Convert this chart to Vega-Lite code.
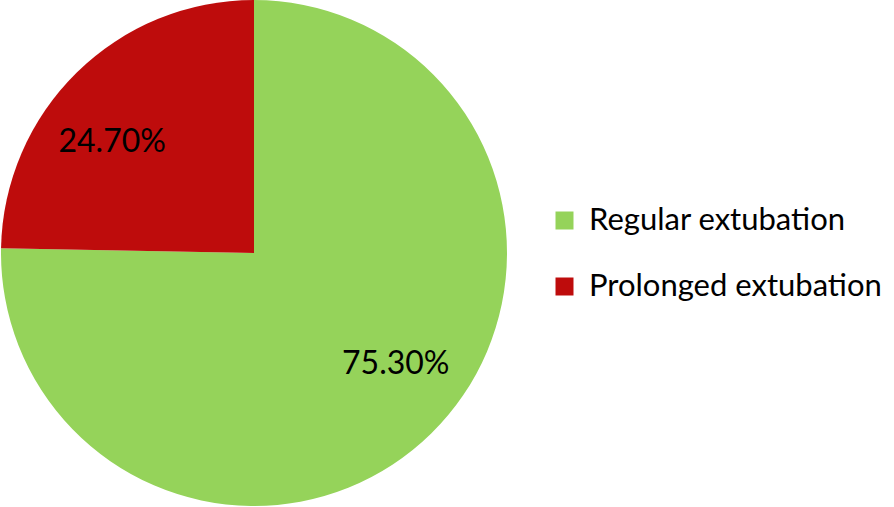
{
  "$schema": "https://vega.github.io/schema/vega-lite/v6.json",
  "width": 508,
  "height": 506,
  "padding": 0,
  "background": "white",
  "data": {
    "values": [
      {"group": "Regular extubation", "share": 75.3, "label": "75.30%", "order": 1},
      {"group": "Prolonged extubation", "share": 24.7, "label": "24.70%", "order": 2}
    ]
  },
  "layer": [
    {
      "mark": {"type": "arc", "outerRadius": 253},
      "encoding": {
        "theta": {"field": "share", "type": "quantitative", "stack": true},
        "order": {"field": "order", "type": "quantitative"},
        "color": {
          "field": "group",
          "type": "nominal",
          "sort": ["Regular extubation", "Prolonged extubation"],
          "scale": {"domain": ["Regular extubation", "Prolonged extubation"], "range": ["#95D35A", "#BE0C0C"]},
          "legend": {
            "title": null,
            "orient": "none",
            "legendX": 549,
            "legendY": 205,
            "symbolType": "square",
            "symbolSize": 324,
            "symbolStrokeWidth": 0,
            "labelFontSize": 31,
            "labelFont": "Lato",
            "labelColor": "#000000",
            "labelOffset": 9,
            "rowPadding": 34,
            "padding": 0,
            "labelLimit": 400
          }
        }
      }
    },
    {
      "mark": {"type": "text", "radius": 180, "fontSize": 32, "font": "Lato", "color": "#000000"},
      "encoding": {
        "theta": {"field": "share", "type": "quantitative", "stack": true, "scale": {"range": [-0.131, 6.152]}},
        "order": {"field": "order", "type": "quantitative"},
        "text": {"field": "label"}
      }
    }
  ],
  "resolve": {"scale": {"theta": "independent"}},
  "config": {"view": {"stroke": null}}
}
